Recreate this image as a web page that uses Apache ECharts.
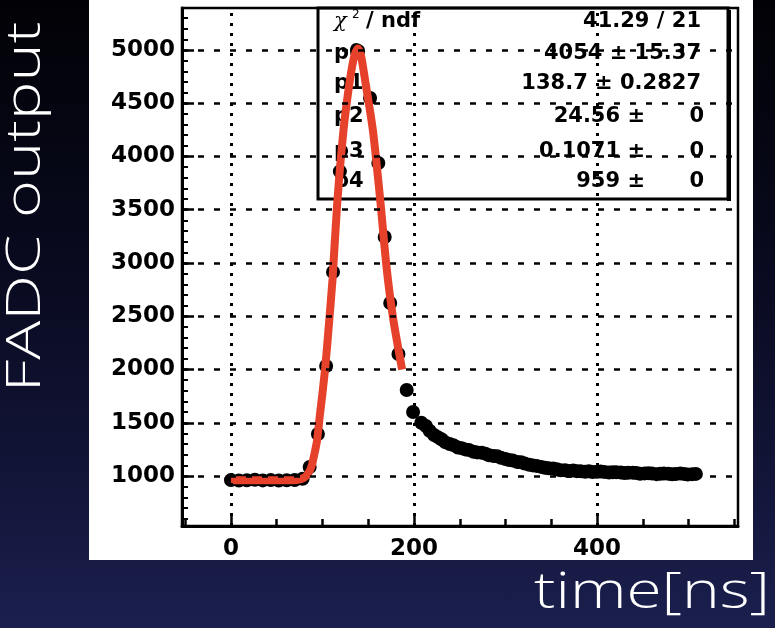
<!DOCTYPE html>
<html><head><meta charset="utf-8">
<script src="https://cdn.jsdelivr.net/npm/echarts@6/dist/echarts.min.js"></script>
<style>
html,body{margin:0;padding:0;width:775px;height:628px;overflow:hidden;
background:linear-gradient(180deg,#020206 0%,#07081a 35%,#101333 70%,#1b1f4e 100%);}
#panel{position:absolute;left:89px;top:0;width:664px;height:560px;background:#fff;}
#chart{position:absolute;left:0;top:0;width:775px;height:628px;}
</style></head><body>
<div id="panel"></div><div id="chart"></div>
<script>
// ---- data ----
const timeNs = [0, 8.7, 17.4, 26.1, 34.8, 43.5, 52.2, 60.9, 69.6, 78.3,
  86, 95, 104, 111.5, 119,
  139, 152, 161, 168, 174, 183, 192, 199,
  208, 213, 217, 222, 226, 230, 234, 239, 243, 248, 252, 256, 260, 265, 269, 274, 278, 282, 287,
  291, 295, 300, 304, 308, 313, 317, 321, 326, 330, 334, 339, 343, 347, 352, 356, 360, 365, 369, 374,
  378, 382, 387, 391, 395, 400, 404, 408, 413, 417, 421, 426, 430, 434, 439, 443, 447, 452, 456, 460,
  465, 469, 473, 478, 482, 486, 491, 495, 499, 504, 508];
const fadcOut = [962, 958, 961, 965, 959, 962, 958, 961, 963, 975,
  1085, 1394, 2033, 2915, 3860,
  4990, 4549, 3939, 3244, 2624, 2146, 1808, 1601,
  1500, 1470, 1425, 1385, 1365, 1345, 1318, 1300, 1290, 1268, 1262, 1250, 1245, 1228, 1222, 1218, 1210, 1195, 1188,
  1185, 1172, 1160, 1150, 1145, 1132, 1130, 1118, 1105, 1100, 1095, 1086, 1078, 1072, 1070, 1064, 1055, 1055, 1048, 1052,
  1046, 1045, 1040, 1044, 1038, 1040, 1042, 1039, 1033, 1035, 1036, 1033, 1028, 1030, 1032, 1028, 1022, 1025, 1027, 1024,
  1018, 1021, 1024, 1022, 1016, 1019, 1023, 1020, 1015, 1018, 1020];
const fitTime = [0, 20, 40, 60, 72, 80, 84, 88, 91, 94, 97, 100, 103, 107, 111, 116, 123, 130, 135, 138.7, 142, 146.5, 155, 163, 170, 177, 187];
const fitValue = [960, 960, 960, 960, 962, 985, 1020, 1090, 1200, 1330, 1560, 1780, 2020, 2420, 2850, 3550, 4250, 4720, 4950, 5013, 4950, 4720, 4250, 3600, 2960, 2490, 2000];

const xMajorTicks = [0, 200, 400];
const xMinorTicks = [-50, 50, 100, 150, 250, 300, 350, 450, 500, 550];
const yMajorTicks = [1000, 1500, 2000, 2500, 3000, 3500, 4000, 4500, 5000];
const yMinorTicks = [600, 700, 800, 900, 1100, 1200, 1300, 1400, 1600, 1700, 1800, 1900,
  2100, 2200, 2300, 2400, 2600, 2700, 2800, 2900, 3100, 3200, 3300, 3400,
  3600, 3700, 3800, 3900, 4100, 4200, 4300, 4400, 4600, 4700, 4800, 4900,
  5100, 5200, 5300];

const chi2Text = '41.29 / 21';
const statNames = ['p0', 'p1', 'p2', 'p3', 'p4'];
const statValues = ['4054', '138.7', '24.56', '0.1071', '959'];
const statErrors = ['15.37', '0.2827', '0', '0', '0'];

const X_MIN = -53.5, X_MAX = 554, Y_MIN = 531, Y_MAX = 5394;

// ---- chart ----
const chart = echarts.init(document.getElementById('chart'), null, {renderer: 'canvas'});
const plain = function (v) { return String(v); };
const labelFont = {color: '#000', fontFamily: 'DejaVu Sans', fontWeight: 'bold', fontSize: 23, formatter: plain};
const boxFont = {fill: '#000', fontFamily: 'DejaVu Sans', fontWeight: 'bold', fontSize: 21};

const graphics = [];
// stats box
graphics.push({type: 'rect', z: 1, shape: {x: 318, y: 8, width: 410, height: 191}, style: {fill: 'none', stroke: '#000', lineWidth: 3}});
graphics.push({type: 'rect', z: 1, shape: {x: 727, y: 10, width: 4, height: 191}, style: {fill: '#000'}});
graphics.push({type: 'text', z: 1, x: 334, y: 22, style: Object.assign({}, boxFont, {text: 'χ', fontFamily: 'DejaVu Serif', fontWeight: 'normal', fontStyle: 'italic', align: 'left', verticalAlign: 'middle'})});
graphics.push({type: 'text', z: 1, x: 352, y: 15, style: Object.assign({}, boxFont, {text: '2', fontSize: 12, fontWeight: 'normal', align: 'left', verticalAlign: 'middle'})});
graphics.push({type: 'text', z: 1, x: 366, y: 22, style: Object.assign({}, boxFont, {text: '/ ndf', align: 'left', verticalAlign: 'middle'})});
graphics.push({type: 'text', z: 1, x: 701, y: 22, style: Object.assign({}, boxFont, {text: chi2Text, align: 'right', verticalAlign: 'middle'})});
const rowY = [54, 84, 117, 152, 182];
statNames.forEach(function (n, i) {
  graphics.push({type: 'text', z: 1, x: 334, y: rowY[i], style: Object.assign({}, boxFont, {text: n, align: 'left', verticalAlign: 'middle'})});
  if (statErrors[i] === '0') {
    graphics.push({type: 'text', z: 1, x: 645, y: rowY[i], style: Object.assign({}, boxFont, {text: statValues[i] + ' ±', align: 'right', verticalAlign: 'middle'})});
    graphics.push({type: 'text', z: 1, x: 704, y: rowY[i], style: Object.assign({}, boxFont, {text: statErrors[i], align: 'right', verticalAlign: 'middle'})});
  } else {
    graphics.push({type: 'text', z: 1, x: 701, y: rowY[i], style: Object.assign({}, boxFont, {text: statValues[i] + ' ± ' + statErrors[i], align: 'right', verticalAlign: 'middle'})});
  }
});
// axis titles (white, on dark background)
graphics.push({type: 'text', x: 26, y: 207, rotation: Math.PI / 2, scaleX: 1.35,
  style: {text: 'FADC output', fill: '#fff', fontFamily: 'Open Sans', fontWeight: 300, fontSize: 48, align: 'center', verticalAlign: 'middle'}});
graphics.push({type: 'text', x: 652, y: 594, scaleX: 1.28,
  style: {text: 'time[ns]', fill: '#fff', fontFamily: 'Open Sans', fontWeight: 300, fontSize: 50, align: 'center', verticalAlign: 'middle'}});

const gridLines = [];
yMajorTicks.forEach(function (v) {
  gridLines.push({yAxis: v, lineStyle: {type: [6, 10], width: 2.5, color: '#000'}});
});
xMajorTicks.forEach(function (v) {
  gridLines.push({xAxis: v, lineStyle: {type: [3, 7], width: 3, color: '#000'}});
});

const option = {
  animation: false,
  backgroundColor: 'transparent',
  grid: {left: 182, right: 37, top: 8, bottom: 102, show: true, borderColor: '#000', borderWidth: 2.5, backgroundColor: 'transparent'},
  xAxis: [
    {type: 'value', min: X_MIN, max: X_MAX, position: 'bottom',
      axisLine: {show: true, onZero: false, lineStyle: {color: '#000', width: 3}},
      axisTick: {show: true, inside: true, length: 13, customValues: xMajorTicks, lineStyle: {color: '#000', width: 2.5}},
      axisLabel: Object.assign({customValues: xMajorTicks, margin: 12}, labelFont),
      splitLine: {show: false}},
    {type: 'value', min: X_MIN, max: X_MAX, position: 'bottom',
      axisLine: {show: false, onZero: false},
      axisTick: {show: true, inside: true, length: 7, customValues: xMinorTicks, lineStyle: {color: '#000', width: 2.5}},
      axisLabel: {show: false},
      splitLine: {show: false}}
  ],
  yAxis: [
    {type: 'value', min: Y_MIN, max: Y_MAX, position: 'left',
      axisLine: {show: true, onZero: false, lineStyle: {color: '#000', width: 3}},
      axisTick: {show: true, inside: true, length: 12, customValues: yMajorTicks, lineStyle: {color: '#000', width: 2.5}},
      axisLabel: Object.assign({customValues: yMajorTicks, margin: 7}, labelFont),
      splitLine: {show: false}},
    {type: 'value', min: Y_MIN, max: Y_MAX, position: 'left',
      axisLine: {show: false, onZero: false},
      axisTick: {show: true, inside: true, length: 6, customValues: yMinorTicks, lineStyle: {color: '#000', width: 2}},
      axisLabel: {show: false},
      splitLine: {show: false}}
  ],
  graphic: graphics,
  series: [
    {type: 'line', data: [], z: 1, silent: true,
      markLine: {silent: true, symbol: ['none', 'none'], label: {show: false}, animation: false, data: gridLines}},
    {type: 'scatter', name: 'data', data: timeNs.map(function (t, i) { return [t, fadcOut[i]]; }),
      symbol: 'circle', symbolSize: 14, itemStyle: {color: '#000', opacity: 1}, z: 3},
    {type: 'line', name: 'fit', data: fitTime.map(function (t, i) { return [t, fitValue[i]]; }),
      smooth: 0.25, showSymbol: false, symbol: 'none', lineStyle: {color: '#e5412b', width: 8, cap: 'butt'}, z: 4}
  ]
};
chart.setOption(option);
</script></body></html>
